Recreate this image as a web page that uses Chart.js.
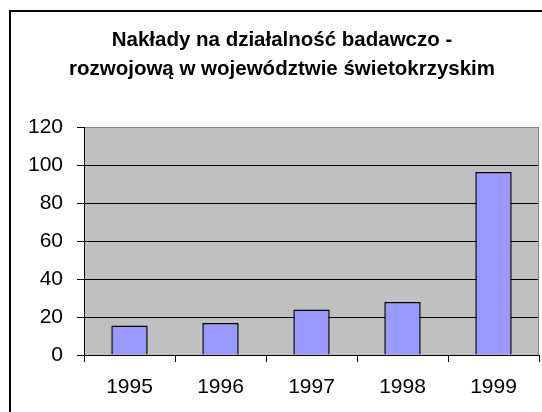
<!DOCTYPE html>
<html lang="pl">
<head>
<meta charset="utf-8">
<title>Nakłady na działalność badawczo-rozwojową</title>
<script src="https://cdn.jsdelivr.net/npm/chart.js@4.4.1/dist/chart.umd.min.js"></script>
<style>
    html, body { margin: 0; padding: 0; background: #fff; }
    #chart { display: block; }
</style>
</head>
<body>
<canvas id="chart" width="542" height="412"></canvas>
<script>
const titleLines = ['Nakłady na działalność badawczo -', 'rozwojową w województwie świetokrzyskim'];
const years = ['1995', '1996', '1997', '1998', '1999'];
const outlays = [15.5, 16.8, 24.0, 27.9, 96.3];
const yMin = 0;
const yMax = 120;
const yStep = 20;

document.addEventListener('DOMContentLoaded', () => {
    const canvas = document.getElementById('chart');
    const FONT = "'Liberation Sans', Arial, sans-serif";

    // gray plot area + outer frame, like the old spreadsheet chart
    const plotBackground = {
        id: 'plotBackground',
        beforeDraw(chart) {
            const { ctx, chartArea: a } = chart;
            ctx.save();
            ctx.fillStyle = '#fff';
            ctx.fillRect(0, 0, chart.width, chart.height);
            ctx.strokeStyle = '#000';
            ctx.lineWidth = 2;
            ctx.beginPath();
            ctx.moveTo(10, chart.height + 2);
            ctx.lineTo(10, 11);
            ctx.lineTo(chart.width + 2, 11);
            ctx.stroke();
            ctx.fillStyle = '#c0c0c0';
            ctx.fillRect(a.left, a.top, a.right - a.left, a.bottom - a.top);
            ctx.restore();
        },
        beforeDatasetsDraw(chart) {
            const { ctx, chartArea: a } = chart;
            ctx.save();
            ctx.strokeStyle = '#808080';
            ctx.lineWidth = 1;
            ctx.beginPath();
            ctx.moveTo(a.right - 0.5, a.top);
            ctx.lineTo(a.right - 0.5, a.bottom);
            ctx.stroke();
            ctx.restore();
        }
    };

    new Chart(canvas, {
        type: 'bar',
        data: {
            labels: years,
            datasets: [{
                data: outlays,
                backgroundColor: '#9999ff',
                borderColor: '#000',
                borderWidth: 1.5,
                categoryPercentage: 1,
                barPercentage: 0.4
            }]
        },
        options: {
            responsive: false,
            animation: false,
            events: [],
            // left padding pushes the title centre right; y axis width makes up the rest
            layout: { padding: { left: 25, right: 3, top: 0, bottom: 0 } },
            plugins: {
                legend: { display: false },
                tooltip: { enabled: false },
                title: {
                    display: true,
                    text: titleLines,
                    color: '#000',
                    font: { family: FONT, size: 20.5, weight: 'bold', lineHeight: 29 / 20.5 },
                    padding: { top: 25.5, bottom: 43.5 }
                }
            },
            scales: {
                x: {
                    afterFit: s => { s.height = 57; },
                    grid: {
                        drawOnChartArea: false,
                        drawTicks: true,
                        tickLength: 7,
                        color: '#000',
                        offset: true
                    },
                    border: { display: true, color: '#000', width: 1 },
                    ticks: {
                        color: '#000',
                        padding: 13,
                        font: { family: FONT, size: 21 }
                    }
                },
                y: {
                    min: yMin,
                    max: yMax,
                    afterFit: s => { s.width = 59; },
                    grid: {
                        color: ctx => (ctx.tick && ctx.tick.value === yMax ? '#808080' : '#000'),
                        tickColor: '#000',
                        tickLength: 7,
                        lineWidth: 1
                    },
                    border: { display: true, color: '#000', width: 1 },
                    ticks: {
                        stepSize: yStep,
                        color: '#000',
                        padding: 14,
                        font: { family: FONT, size: 21 }
                    }
                }
            }
        },
        plugins: [plotBackground]
    });
});
</script>
</body>
</html>
